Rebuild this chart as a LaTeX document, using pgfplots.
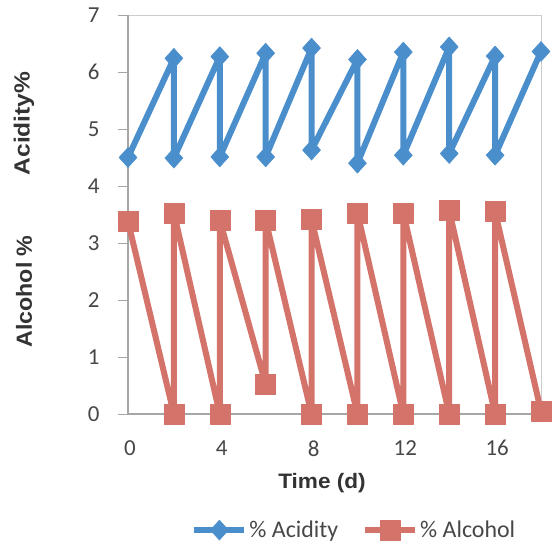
\documentclass[border=0pt]{standalone}
\usepackage{graphicx}
\usepackage{pgfplots}
\pgfplotsset{compat=1.18}
\usepackage{fontspec}
\setmainfont{Carlito}
\newfontfamily\arialfont{Liberation Sans}
\definecolor{acid}{RGB}{74,142,204}
\definecolor{alc}{RGB}{212,115,106}
\begin{document}
\begin{tikzpicture}
\useasboundingbox (0,0) rectangle (552bp,548bp);
\begin{axis}[
  at={(128bp,134bp)}, anchor=south west,
  scale only axis, width=413bp, height=399bp,
  xmin=0, xmax=18, ymin=0, ymax=7,
  xtick={0,4,8,12,16}, ytick={0,1,2,3,4,5,6,7},
  xtick pos=bottom, ytick pos=left,
  axis line style={draw=gray!40, line width=1pt},
  xtick style={draw=none},
  ytick style={draw=gray!70, line width=1pt},
  tick align=outside, major tick length=10bp,
  /pgf/number format/assume math mode=true,
  tick label style={font=\fontsize{23}{23}\selectfont, text=black!72},
  yticklabel style={xshift=-15bp},
  xticklabel style={yshift=-13bp, xshift=2bp},
  clip=false,
  legend columns=2,
  legend style={at={(0.548,-0.291)}, anchor=center, draw=none, fill=none,
    font=\fontsize{24}{24}\selectfont, text=black!72,
    /tikz/every even column/.append style={column sep=22bp},
    nodes={inner sep=2bp}},
  legend image code/.code={\draw[mark repeat=2,mark phase=2,#1] plot coordinates {(0bp,0bp)(25bp,0bp)(50bp,0bp)};},
]
\draw[gray!70, line width=1.2pt] (rel axis cs:0,0) -- (rel axis cs:1,0);
\draw[gray!70, line width=1.2pt] (rel axis cs:0,0) -- (rel axis cs:0,1);
\addplot[acid, line width=6bp, line join=round, mark=diamond*, mark size=10bp,
  mark options={solid, xscale=1.2, fill=acid, draw=acid, line width=0.5pt}]
  coordinates {(0,4.50)(2,6.24)(2,4.49)(4,6.27)(4,4.51)(6,6.33)(6,4.51)(8,6.42)(8,4.63)
  (10,6.22)(10,4.40)(12,6.35)(12,4.54)(14,6.44)(14,4.57)(16,6.28)(16,4.54)(18,6.36)};
\addlegendentry{\% Acidity}
\addplot[alc, line width=6bp, line join=round, mark=square*, mark size=10bp,
  mark options={solid, fill=alc, draw=alc, line width=0.5pt}]
  coordinates {(0,3.38)(2,0.00)(2,3.53)(4,0.00)(4,3.40)(6,0.52)(6,3.40)(8,0.00)(8,3.41)
  (10,0.00)(10,3.53)(12,0.00)(12,3.53)(14,0.00)(14,3.57)(16,0.00)(16,3.55)(18,0.05)};
\addlegendentry{\% Alcohol}
\end{axis}
\node[text=black!80] at (322bp,65bp) {\arialfont\bfseries\fontsize{21}{21}\selectfont\scalebox{1.08}[1]{Time (d)}};
\node[rotate=90, text=black!80] at (24bp,424.5bp) {\arialfont\bfseries\fontsize{22}{22}\selectfont\scalebox{1.12}[1]{Acidity\%}};
\node[rotate=90, text=black!80] at (24bp,256.5bp) {\arialfont\bfseries\fontsize{22}{22}\selectfont\scalebox{1.06}[1]{Alcohol \%}};
\end{tikzpicture}
\end{document}
